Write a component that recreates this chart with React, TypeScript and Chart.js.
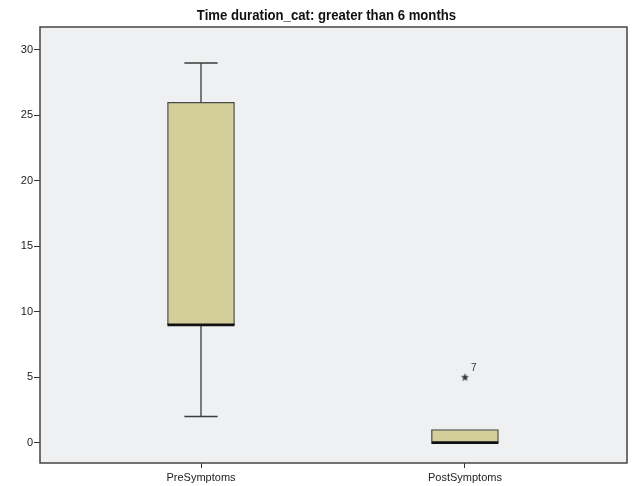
import React, { useEffect, useRef } from "react";
import { Chart, registerables } from "chart.js";

Chart.register(...registerables);

const chartTitle = "Time duration_cat: greater than 6 months";
const categories = ["PreSymptoms", "PostSymptoms"];
const whiskerMin = [2, 0];
const q1 = [9, 0];
const median = [9, 0];
const q3 = [26, 1];
const whiskerMax = [29, 1];
const outlierValues: number[][] = [[], [5]];
const outlierLabels: string[][] = [[], ["7"]];
const yTicks = [0, 5, 10, 15, 20, 25, 30];

const BOX_HALF = 0.127;
const CAP_HALF = 0.063;

function makeStar(): HTMLCanvasElement {
  const c = document.createElement("canvas");
  c.width = 9;
  c.height = 9;
  const g = c.getContext("2d")!;
  g.fillStyle = "#333";
  g.beginPath();
  const cx = 4.5, cy = 4.8, R = 4.2, r = 1.8;
  for (let k = 0; k < 10; k++) {
    const ang = -Math.PI / 2 + (k * Math.PI) / 5;
    const rad = k % 2 === 0 ? R : r;
    const px = cx + rad * Math.cos(ang);
    const py = cy + rad * Math.sin(ang);
    if (k === 0) g.moveTo(px, py);
    else g.lineTo(px, py);
  }
  g.closePath();
  g.fill();
  return c;
}

const boxPlugin = {
  id: "boxPlugin",
  beforeDatasetsDraw(chart: any) {
    const { ctx, chartArea } = chart;
    ctx.save();
    ctx.fillStyle = "#eff0f2";
    ctx.fillRect(chartArea.left, chartArea.top, chartArea.right - chartArea.left, chartArea.bottom - chartArea.top);
    ctx.restore();
  },
  afterDatasetsDraw(chart: any) {
    const { ctx, chartArea } = chart;
    const xs = chart.scales.x;
    const ys = chart.scales.y;
    ctx.save();
    ctx.strokeStyle = "#3a3a3a";
    ctx.lineWidth = 1.3;
    categories.forEach((_, i) => {
      const cx = xs.getPixelForValue(i);
      const capL = xs.getPixelForValue(i - CAP_HALF);
      const capR = xs.getPixelForValue(i + CAP_HALF);
      if (whiskerMax[i] > q3[i]) {
        ctx.beginPath();
        ctx.moveTo(cx, ys.getPixelForValue(q3[i]));
        ctx.lineTo(cx, ys.getPixelForValue(whiskerMax[i]));
        ctx.moveTo(capL, ys.getPixelForValue(whiskerMax[i]));
        ctx.lineTo(capR, ys.getPixelForValue(whiskerMax[i]));
        ctx.stroke();
      }
      if (whiskerMin[i] < q1[i]) {
        ctx.beginPath();
        ctx.moveTo(cx, ys.getPixelForValue(q1[i]));
        ctx.lineTo(cx, ys.getPixelForValue(whiskerMin[i]));
        ctx.moveTo(capL, ys.getPixelForValue(whiskerMin[i]));
        ctx.lineTo(capR, ys.getPixelForValue(whiskerMin[i]));
        ctx.stroke();
      }
    });
    // medians
    ctx.strokeStyle = "#111";
    ctx.lineWidth = 2.6;
    categories.forEach((_, i) => {
      const l = xs.getPixelForValue(i - BOX_HALF);
      const r = xs.getPixelForValue(i + BOX_HALF);
      const y = ys.getPixelForValue(median[i]);
      ctx.beginPath();
      ctx.moveTo(l, y);
      ctx.lineTo(r, y);
      ctx.stroke();
    });
    // outlier labels
    ctx.fillStyle = "#333";
    ctx.font = "10px 'Liberation Sans', Arial, sans-serif";
    ctx.textAlign = "left";
    ctx.textBaseline = "middle";
    categories.forEach((_, i) => {
      outlierValues[i].forEach((v, k) => {
        const px = xs.getPixelForValue(i);
        const py = ys.getPixelForValue(v);
        ctx.fillText(outlierLabels[i][k], px + 6, py - 9);
      });
    });
    // frame
    ctx.strokeStyle = "#444";
    ctx.lineWidth = 1.5;
    ctx.strokeRect(chartArea.left, chartArea.top, chartArea.right - chartArea.left, chartArea.bottom - chartArea.top);
    // title (condensed, like Arial Narrow)
    const cxTitle = (chartArea.left + chartArea.right) / 2 - 7;
    ctx.translate(cxTitle, 16);
    ctx.scale(0.877, 1);
    ctx.fillStyle = "#111";
    ctx.font = "bold 15px 'Liberation Sans', Arial, sans-serif";
    ctx.textAlign = "center";
    ctx.textBaseline = "middle";
    ctx.fillText(chartTitle, 0, 0);
    ctx.restore();
  },
};

export default function App() {
  const ref = useRef<HTMLCanvasElement | null>(null);
  useEffect(() => {
    if (!ref.current) return;
    const boxData = categories.map((_, i) => ({ x: i, y: [q1[i], q3[i]] }));
    const outData: { x: number; y: number }[] = [];
    categories.forEach((_, i) => outlierValues[i].forEach((v) => outData.push({ x: i, y: v })));
    const chart = new Chart(ref.current, {
      type: "bar",
      data: {
        datasets: [
          {
            type: "bar",
            data: boxData as any,
            backgroundColor: "#d4cf9a",
            borderColor: "#4a4a4a",
            borderWidth: 1.3,
            borderSkipped: false,
            barThickness: 67,
          } as any,
          {
            type: "scatter",
            data: outData,
            pointStyle: makeStar(),
            radius: 4,
          } as any,
        ],
      },
      options: {
        responsive: false,
        animation: false,
        devicePixelRatio: 1,
        layout: { padding: { left: 0, right: 10, top: 27, bottom: 0 } },
        plugins: {
          legend: { display: false },
          tooltip: { enabled: false },
          title: { display: false },
        },
        scales: {
          x: {
            type: "linear",
            min: -0.61,
            max: 1.614,
            offset: false,
            afterFit: (s: any) => { s.height = 23; },
            afterBuildTicks: (s: any) => { s.ticks = categories.map((_, i) => ({ value: i })); },
            ticks: {
              callback: (v: any) => categories[v] ?? "",
              color: "#222",
              font: { family: "'Liberation Sans', Arial, sans-serif", size: 11 },
              padding: 3,
              maxRotation: 0,
              autoSkip: false,
            },
            grid: { drawOnChartArea: false, drawTicks: true, tickLength: 5, color: "#333", offset: false },
            border: { display: false },
          },
          y: {
            type: "linear",
            min: -1.55,
            max: 31.75,
            afterFit: (s: any) => { s.width = 40; },
            afterBuildTicks: (s: any) => { s.ticks = yTicks.map((v) => ({ value: v })); },
            ticks: {
              color: "#222",
              font: { family: "'Liberation Sans', Arial, sans-serif", size: 11 },
              padding: 1,
            },
            grid: { drawOnChartArea: false, drawTicks: true, tickLength: 6, color: "#333" },
            border: { display: false },
          },
        },
      },
      plugins: [boxPlugin],
    });
    return () => chart.destroy();
  }, []);
  return (
    <div style={{ position: "absolute", left: 0, top: 0, width: 637, height: 486, background: "#fff" }}>
      <canvas ref={ref} width={637} height={486} />
    </div>
  );
}
